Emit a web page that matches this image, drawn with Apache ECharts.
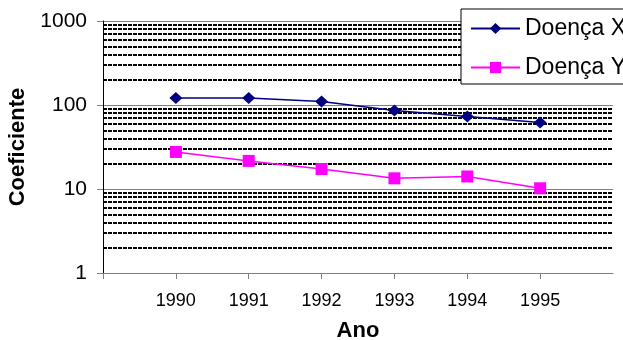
<!DOCTYPE html>
<html><head><meta charset="utf-8">
<script src="https://cdn.jsdelivr.net/npm/echarts@6/dist/echarts.min.js"></script>
<style>html,body{margin:0;padding:0;background:#fff}#c{width:623px;height:340px}</style>
</head><body><div id="c"></div>
<script>
const categories = ['', '1990', '1991', '1992', '1993', '1994', '1995', ''];
const doencaX = [null, 121, 121, 110, 86, 73, 62, null];
const doencaY = [null, 27.6, 21.6, 17.3, 13.4, 14.1, 10.2, null];
const minorGrid = [2,3,4,5,6,7,8,9,20,30,40,50,60,70,80,90,200,300,400,500,600,700,800,900];
const yTicks = [1, 10, 100, 1000];

const FONT = 'Liberation Sans, Arial, sans-serif';
const chart = echarts.init(document.getElementById('c'));
chart.setOption({
  animation: false,
  textStyle: {fontFamily: FONT},
  grid: {left: 103, right: 10, top: 21, bottom: 67, containLabel: false, outerBoundsMode: 'none'},
  legend: {
    orient: 'vertical', left: 461, top: 9,
    padding: [8, 10, 5, 9], itemGap: 16, itemWidth: 49, itemHeight: 14,
    backgroundColor: '#fff', borderColor: '#000', borderWidth: 1,
    textStyle: {fontSize: 23, color: '#000', fontFamily: FONT},
    data: ['Doença X', 'Doença Y']
  },
  xAxis: {
    type: 'category', data: categories, boundaryGap: false,
    name: 'Ano', nameLocation: 'middle', nameGap: 47,
    nameTextStyle: {fontSize: 22, fontWeight: 'bold', color: '#000', fontFamily: FONT},
    axisLine: {lineStyle: {color: '#808080', width: 1}},
    axisTick: {show: true, length: 6, interval: function (i) { return i < 7; }, lineStyle: {color: '#808080'}},
    axisLabel: {interval: 0, fontSize: 18, color: '#000', margin: 19, fontFamily: FONT},
    splitLine: {show: false}
  },
  yAxis: {
    type: 'log', logBase: 10, min: 1, max: 1000,
    name: 'Coeficiente', nameLocation: 'middle', nameGap: 63, nameRotate: 90,
    nameTextStyle: {fontSize: 22, fontWeight: 'bold', color: '#000', fontFamily: FONT},
    axisLine: {show: true, lineStyle: {color: '#000', width: 1}},
    axisTick: {show: true, length: 6, lineStyle: {color: '#808080'}},
    axisLabel: {fontSize: 21, color: '#000', margin: 16, fontFamily: FONT,
      formatter: function (v) { return yTicks.indexOf(Math.round(v)) >= 0 ? String(Math.round(v)) : ''; }},
    splitLine: {show: true, lineStyle: {color: '#808080', width: 1}}
  },
  series: [
    {
      name: 'Doença X', type: 'line', data: doencaX,
      symbol: 'diamond', symbolSize: [13, 12],
      lineStyle: {color: '#000080', width: 1.5},
      itemStyle: {color: '#000080'},
      z: 5,
      markLine: {
        silent: true, symbol: 'none', label: {show: false},
        lineStyle: {color: '#000', width: 2, type: [4, 1]},
        data: minorGrid.map(function (v) { return {yAxis: v}; }),
        z: 1
      }
    },
    {
      name: 'Doença Y', type: 'line', data: doencaY,
      symbol: 'rect', symbolSize: 12,
      lineStyle: {color: '#FF00FF', width: 1.5},
      itemStyle: {color: '#FF00FF'},
      z: 5
    }
  ]
});
</script></body></html>
